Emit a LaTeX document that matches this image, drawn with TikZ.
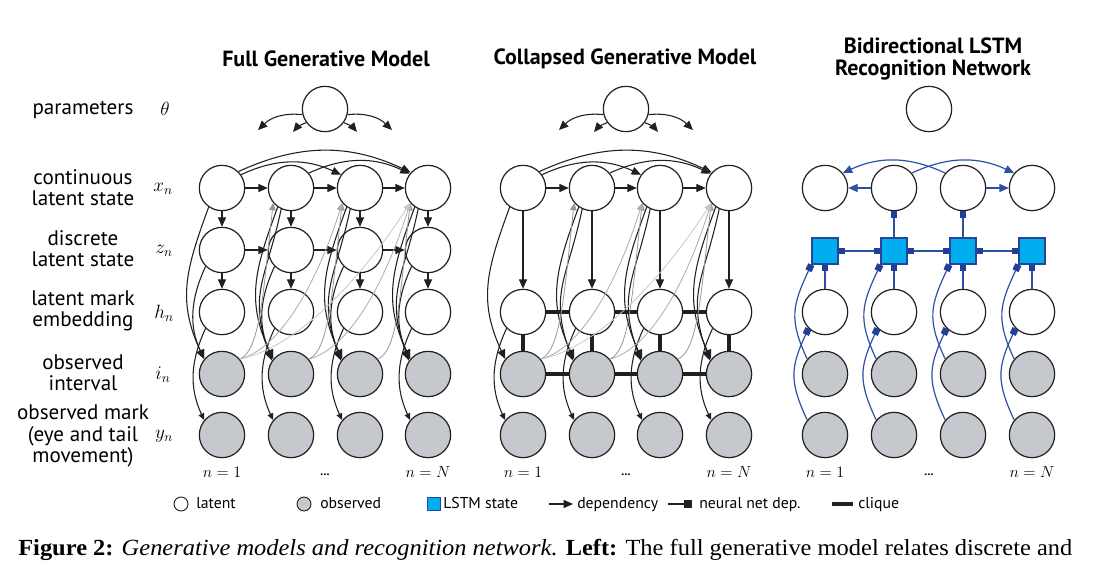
\documentclass[tikz,border=0pt]{standalone}
\usepackage{fontspec}
\setmainfont{Liberation Serif}
\newfontfamily\sansf{PT Sans}
\usetikzlibrary{arrows.meta,calc}
\definecolor{ink}{RGB}{35,31,32}
\definecolor{obsg}{RGB}{197,200,205}
\definecolor{lstmfill}{RGB}{0,174,239}
\definecolor{lstmedge}{RGB}{40,70,150}
\definecolor{nnsq}{RGB}{35,62,150}
\definecolor{nnline}{RGB}{45,80,165}
\definecolor{gA}{RGB}{150,150,150}
\definecolor{gB}{RGB}{172,172,172}
\definecolor{gC}{RGB}{200,200,200}
\newcommand\mylabfont{\sansf\fontsize{15.8}{15.9}\selectfont}
\newcommand\myttlfont{\sansf\bfseries\fontsize{16.5}{16.5}\selectfont}
\newcommand\mylegfont{\sansf\fontsize{11.8}{13}\selectfont}
\newcommand\mymathsz{\fontsize{14}{16}\selectfont}
\newcommand\mynfont{\fontsize{12.5}{14}\selectfont}
\tikzset{
 lat/.style={circle,draw=ink,line width=0.9pt,fill=white,minimum size=34pt,inner sep=0pt},
 obs/.style={lat,fill=obsg},
 lstm/.style={rectangle,draw=lstmedge,line width=1pt,fill=lstmfill,minimum size=19.5pt,inner sep=0pt},
 dep/.style={draw=ink,line width=0.8pt,-{Triangle[length=7pt,width=6pt]}},
 sdep/.style={draw=ink,line width=0.8pt,-{Triangle[length=5pt,width=4.5pt]}},
 gdep/.style={draw=#1,line width=0.6pt,-{Triangle[length=5.5pt,width=5pt]}},
 cliq/.style={draw=ink,line width=3.6pt},
 nn/.style={draw=nnline,line width=0.9pt,-{Square[length=5pt,width=5pt,fill=nnsq,color=nnsq]}},
 nnboth/.style={draw=nnline,line width=0.9pt,{Square[length=5pt,width=5pt,fill=nnsq,color=nnsq]}-{Square[length=5pt,width=5pt,fill=nnsq,color=nnsq]}},
 nnleg/.style={draw=ink,line width=0.9pt,-{Square[length=6pt,width=6pt,fill=ink]}},
 bdep/.style={draw=nnline,line width=0.9pt,-{Triangle[length=7pt,width=6pt]}},
 lab/.style={align=center,font=\mylabfont,inner sep=0pt},
 mlab/.style={font=\mymathsz,inner sep=0pt},
 nlab/.style={font=\mynfont,inner sep=0pt},
 ttl/.style={font=\myttlfont,align=center,inner sep=0pt},
 leg/.style={anchor=base west,font=\mylegfont,inner sep=0pt},
}
\begin{document}
\begin{tikzpicture}[x=0.75pt,y=0.75pt]
\useasboundingbox (0,0) rectangle (1094,-565);

% ---------- titles ----------
\node[ttl] (t1) at (326,-59) {Full Generative Model};
\node[ttl] (t2) at (625,-59) {Collapsed Generative Model};
\node[ttl] (t3) at (933,-59) {Bidirectional LSTM\\Recognition Network};

% ---------- row labels ----------
\node[lab] (r1) at (83,-110) {parameters};
\node[lab] (r2) at (83,-188) {continuous\\latent state};
\node[lab] (r3) at (83,-249) {discrete\\latent state};
\node[lab] (r4) at (83,-311) {latent mark\\embedding};
\node[lab] (r5) at (83,-373) {observed\\interval};
\node[lab] (r6) at (83,-436) {observed mark\\(eye and tail\\movement)};
\node[mlab] (m1) at (165,-109) {$\theta$};
\node[mlab] (m2) at (163,-189) {$x_n$};
\node[mlab] (m3) at (164,-251) {$z_n$};
\node[mlab] (m4) at (164,-313) {$h_n$};
\node[mlab] (m5) at (163,-375) {$i_n$};
\node[mlab] (m6) at (164,-436) {$y_n$};

% ---------- theta nodes ----------
\foreach \p/\cx in {l/325,m/626} {
  \node[lat] (\p th) at (\cx,-109) {};
  \coordinate (\p ta) at (\cx-67,-130);
  \coordinate (\p tb) at (\cx-32,-132);
  \coordinate (\p tc) at (\cx+32,-132);
  \coordinate (\p td) at (\cx+67,-130);
  \draw[dep] (\p th.194) to[bend right=25] (\p ta);
  \draw[dep] (\p th.216) to[bend right=15] (\p tb);
  \draw[dep] (\p th.324) to[bend left=15] (\p tc);
  \draw[dep] (\p th.346) to[bend left=25] (\p td);
}
\node[lat] (rth) at (929,-109) {};

% ---------- left panel ----------
\foreach \x [count=\i] in {222,291,360,428} {
  \node[lat] (lx\i) at (\x,-188) {};
  \node[lat] (lz\i) at (\x,-250) {};
  \node[lat] (lh\i) at (\x,-312) {};
  \node[obs] (li\i) at (\x,-374) {};
  \node[obs] (ly\i) at (\x,-435) {};
}
\foreach \i in {1,2,3,4} {
  \draw[dep] (lx\i) -- (lz\i);
  \draw[dep] (lz\i) -- (lh\i);
  \draw[dep] (lx\i.235) to[out=250,in=115,looseness=1.1] (li\i.140);
  \draw[dep] (lz\i.225) to[out=245,in=115] (li\i.140);
  \draw[sdep] (lh\i.225) to[out=245,in=115] (ly\i.140);
}
\foreach \i in {2,3,4}
  \draw[dep] (lx\i.245) to[out=258,in=110,looseness=1.2] (li\i.145);
\foreach \i/\j in {1/2,2/3,3/4} {
  \draw[dep] (lx\i) -- (lx\j);
  \draw[dep] (lz\i) -- (lz\j);
}
\draw[dep] (lx1.35) to[bend left=25] (lx3.145);
\draw[dep] (lx1.45) to[bend left=25] (lx4.138);
\draw[dep] (lx2.40) to[bend left=25] (lx4.142);
\foreach \m/\n/\a/\b/\c/\d/\col in {1/2/20/8/-10/-90/gA,2/3/20/8/-10/-90/gA,3/4/20/8/-10/-90/gA,
   1/3/40/10/-25/-80/gB,2/4/40/10/-25/-80/gB,1/4/60/12/-45/-70/gC}
  \draw[gdep=\col] (li\m.40) .. controls +(\a,\b) and +(\c,\d) .. (lx\n.220);

% ---------- middle panel ----------
\foreach \x [count=\i] in {523,592,660,729} {
  \node[lat] (mx\i) at (\x,-188) {};
  \node[lat] (mh\i) at (\x,-312) {};
  \node[obs] (mi\i) at (\x,-374) {};
  \node[obs] (my\i) at (\x,-435) {};
}
\foreach \i in {1,2,3,4} {
  \draw[dep] (mx\i) -- (mh\i);
  \draw[cliq] (mh\i) -- (mi\i);
  \draw[dep] (mx\i.235) to[out=250,in=115,looseness=1.1] (mi\i.140);
  \draw[sdep] (mh\i.225) to[out=245,in=115] (my\i.140);
}
\foreach \i in {2,3,4}
  \draw[dep] (mx\i.245) to[out=258,in=110,looseness=1.2] (mi\i.145);
\foreach \i/\j in {1/2,2/3,3/4} {
  \draw[dep] (mx\i) -- (mx\j);
  \draw[cliq] (mh\i) -- (mh\j);
  \draw[cliq] (mi\i) -- (mi\j);
}
\draw[dep] (mx1.35) to[bend left=25] (mx3.145);
\draw[dep] (mx1.45) to[bend left=25] (mx4.138);
\draw[dep] (mx2.40) to[bend left=25] (mx4.142);
\foreach \m/\n/\a/\b/\c/\d/\col in {1/2/20/8/-10/-90/gA,2/3/20/8/-10/-90/gA,3/4/20/8/-10/-90/gA,
   1/3/40/10/-25/-80/gB,2/4/40/10/-25/-80/gB,1/4/60/12/-45/-70/gC}
  \draw[gdep=\col] (mi\m.40) .. controls +(\a,\b) and +(\c,\d) .. (mx\n.220);

% ---------- right panel ----------
\foreach \x [count=\i] in {825,894,963,1032} {
  \node[lat] (rx\i) at (\x,-188) {};
  \node[lstm] (rl\i) at (\x,-251) {};
  \node[lat] (rh\i) at (\x,-312) {};
  \node[obs] (ri\i) at (\x,-374) {};
  \node[obs] (ry\i) at (\x,-435) {};
}
\foreach \i in {1,2,3,4} {
  \draw[nn] (rh\i) -- (rl\i);
  \draw[nn] (ri\i.140) to[out=115,in=245,looseness=1.2] (rl\i.south west);
  \draw[nn] (ry\i.140) to[out=115,in=245,looseness=1.2] (rh\i.225);
}
\foreach \i/\j in {1/2,2/3,3/4}
  \draw[nnboth] (rl\i) -- (rl\j);
\draw[nn] (rl2) -- (rx2);
\draw[nn] (rl3) -- (rx3);
\draw[bdep] (rx2) -- (rx1);
\draw[bdep] (rx3) -- (rx4);
\draw[bdep] (rx3.140) to[bend right=25] (rx1.40);
\draw[bdep] (rx2.40) to[bend left=25] (rx4.140);

% ---------- n labels ----------
\foreach \p/\a/\b/\c in {l/222/325/428,m/523/626/729,r/825/929/1032} {
  \node[nlab] (\p n1) at (\a,-472) {$n=1$};
  \node[nlab,font=\sansf\bfseries\fontsize{9}{10}\selectfont] (\p nd) at (\b,-475) {...};
  \node[nlab] (\p nN) at (\c,-472) {$n=N$};
}

% ---------- legend ----------
\node[lat,minimum size=10.5pt,line width=0.7pt] (lg1) at (181,-504) {};
\node[leg] (lg1t) at (196,-508.5) {latent};
\node[obs,minimum size=10.5pt,line width=0.7pt] (lg2) at (304,-504) {};
\node[leg] (lg2t) at (320,-508.5) {observed};
\node[lstm,minimum size=9.5pt,line width=0.7pt] (lg3) at (434,-504) {};
\node[leg] (lg3t) at (443,-508.5) {LSTM state};
\coordinate (lg4a) at (549,-504);
\coordinate (lg4b) at (573,-504);
\draw[dep] (lg4a) -- (lg4b);
\node[leg] (lg4t) at (577,-508.5) {dependency};
\coordinate (lg5a) at (668,-504);
\coordinate (lg5b) at (692,-504);
\draw[nnleg] (lg5a) -- (lg5b);
\node[leg] (lg5t) at (699,-508.5) {neural net dep.};
\coordinate (lg6a) at (832,-504);
\coordinate (lg6b) at (853,-504);
\draw[cliq] (lg6a) -- (lg6b);
\node[leg] (lg6t) at (858,-508.5) {clique};

% ---------- caption ----------
\node[anchor=base west,inner sep=0pt] (cap) at (18,-555)
  {\resizebox{790.5pt}{12.2pt}{\textbf{Figure 2:} \textit{Generative models and recognition network.} \textbf{Left:} The full generative model relates discrete and}};
\end{tikzpicture}
\end{document}
